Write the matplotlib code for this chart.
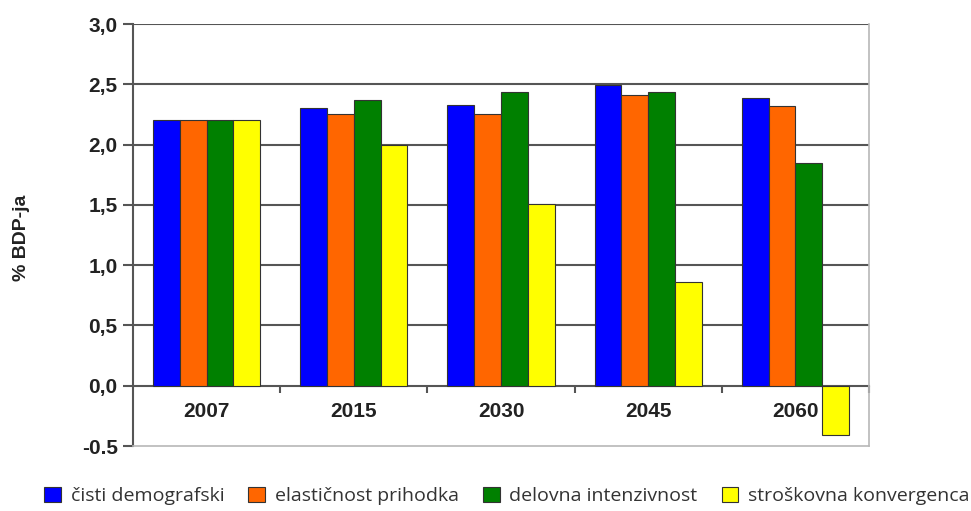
import matplotlib
matplotlib.use("Agg")
import matplotlib.pyplot as plt
import numpy as np

categories = ["2007", "2015", "2030", "2045", "2060"]
series_names = ["čisti demografski", "elastičnost prihodka",
                "delovna intenzivnost", "stroškovna konvergenca"]
cisti = [2.2, 2.3, 2.33, 2.49, 2.39]
elasticnost = [2.2, 2.25, 2.25, 2.41, 2.32]
delovna = [2.2, 2.37, 2.44, 2.44, 1.85]
stroskovna = [2.2, 2.0, 1.51, 0.86, -0.41]
series = [cisti, elasticnost, delovna, stroskovna]
colors = ["#0000FF", "#FF6600", "#008000", "#FFFF00"]
yticks = [-0.5, 0.0, 0.5, 1.0, 1.5, 2.0, 2.5, 3.0]
ytick_labels = ["-0.5", "0,0", "0,5", "1,0", "1,5", "2,0", "2,5", "3,0"]

fig = plt.figure(figsize=(9.71, 5.11), dpi=100)
ax = fig.add_axes([133/971, 1-446/511, (869-133)/971, (446-24)/511])

n = len(categories)
x = np.arange(n) + 0.5
w = 1/5.5
handles = []
for i, (vals, c) in enumerate(zip(series, colors)):
    b = ax.bar(x + (i - 1.5) * w, vals, width=w, color=c, edgecolor="#333333",
               linewidth=0.8, zorder=3, label=series_names[i])
    handles.append(b)

ax.set_xlim(0, n)
ax.set_ylim(-0.5, 3.0)
ax.set_yticks(yticks)
ax.set_yticklabels(ytick_labels, fontfamily="Liberation Sans", fontweight="bold",
                   fontsize=15, color="#222222")
ax.tick_params(axis="y", direction="out", length=7, width=1.5, color="#555555", pad=4)
ax.set_xticks([])
for yv in yticks[2:]:
    ax.axhline(yv, color="#555555", linewidth=1.5, zorder=1)

ax.spines["left"].set_color("#555555")
ax.spines["left"].set_linewidth(1.5)
ax.spines["top"].set_visible(False)
ax.spines["right"].set_color("#b8b8b8")
ax.spines["bottom"].set_color("#b8b8b8")
ax.spines["right"].set_linewidth(1.2)
ax.spines["bottom"].set_linewidth(1.2)

# category axis at zero
sec = ax.secondary_xaxis(0.5 / 3.5)
sec.spines["bottom"].set_color("#555555")
sec.spines["bottom"].set_linewidth(1.5)
sec.set_xticks(np.arange(1, n + 1))
sec.set_xticklabels([])
sec.set_xticks(x, minor=True)
sec.set_xticklabels(categories, minor=True, fontfamily="Liberation Sans",
                    fontweight="bold", fontsize=15, color="#222222")
sec.tick_params(axis="x", which="major", direction="out", length=5, width=1.5,
                color="#555555")
sec.tick_params(axis="x", which="minor", length=0, pad=12)

fig.text(22/971, 1-238/511, "% BDP-ja", rotation=90, ha="center", va="center",
         fontfamily="Liberation Sans", fontweight="bold", fontsize=14, color="#222222")

fig.legend(handles=handles, labels=series_names, loc="center",
           bbox_to_anchor=(0.522, 1-496/511), ncol=4, frameon=False,
           prop={"family": "Open Sans", "size": 14}, handlelength=0.85,
           handleheight=0.85, handletextpad=0.5, columnspacing=1.25,
           labelcolor="#333333")

fig.savefig("out.png", dpi=100)
